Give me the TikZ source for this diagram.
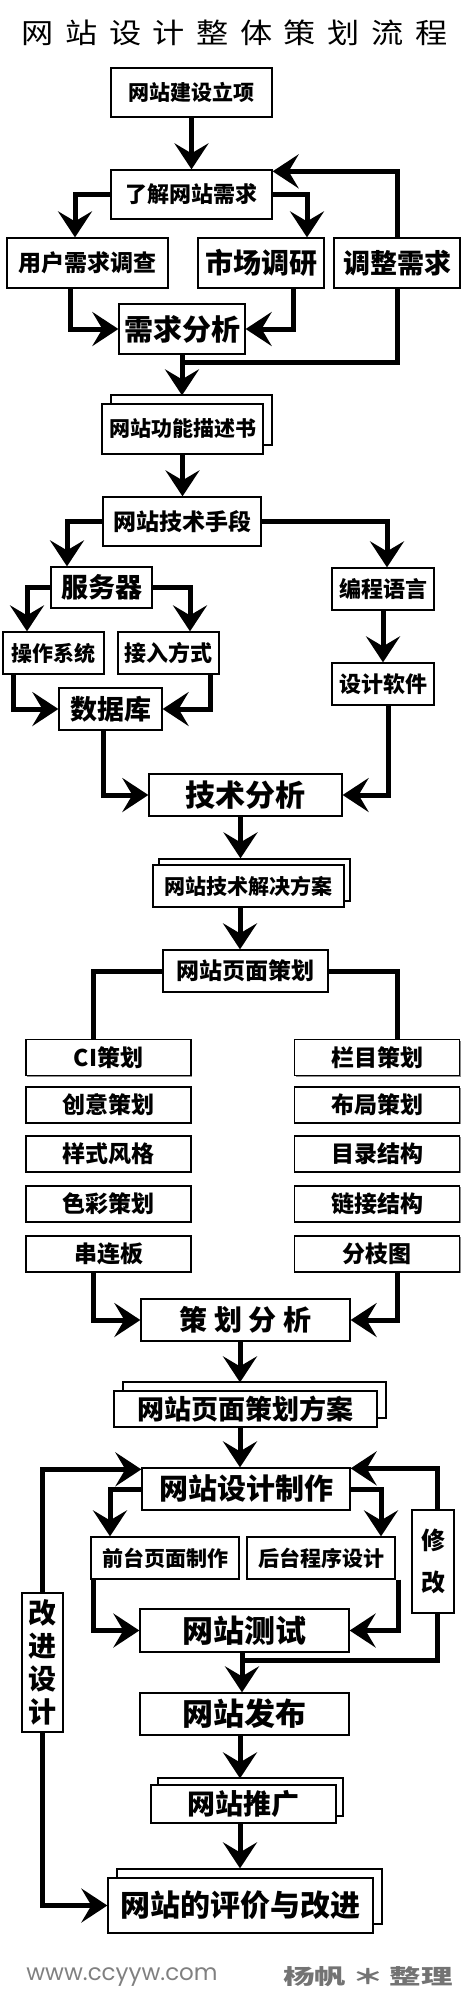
\documentclass[tikz,border=0pt]{standalone}
\usepackage{fontspec}
\setmainfont{Noto Sans CJK SC}
\newfontfamily\webfont{Poppins}
\usetikzlibrary{arrows.meta,calc,shadows}
\newcommand\flowfont[1]{\bfseries\fontsize{#1}{#1}\selectfont}
\newcommand\tsp{\hskip 11.5pt}

\begin{document}
\begin{tikzpicture}[x=1pt,y=-1pt]
\tikzset{
  flownode/.style={rectangle,draw=black,fill=white,line width=1.3pt,inner sep=0pt,
    general shadow={shadow xshift=1.3pt,shadow yshift=-1.3pt,fill=black!45}},
  docnode/.style={flownode,copy shadow={shadow xshift=#1,shadow yshift=#1}},
  colnode/.style={flownode,minimum width=165pt,minimum height=36pt,font=\flowfont{23}},
  flowedge/.style={draw=black,line width=5pt,line join=miter},
  directed/.style={flowedge,-{Stealth[length=26pt,width=34pt,inset=10pt]}}
}
\useasboundingbox (0,0) rectangle (468,2000);
\node[font=\fontsize{28}{28}\selectfont\addfontfeatures{FakeStretch=1.15}] (n_title) at (234.5,33)
  {网\tsp 站\tsp 设\tsp 计\tsp 整\tsp 体\tsp 策\tsp 划\tsp 流\tsp 程};
\node[flownode,minimum width=161pt,minimum height=49pt,font=\flowfont{21}] (n_start) at (191.5,92.5) {网站建设立项};
\node[flownode,minimum width=161pt,minimum height=49pt,font=\flowfont{22}] (n_req) at (191.5,194.5) {了解网站需求};
\node[flownode,minimum width=161pt,minimum height=50pt,font=\flowfont{23}] (n_user) at (87.5,263) {用户需求调查};
\node[flownode,minimum width=126pt,minimum height=50pt,font=\flowfont{28}] (n_market) at (261,263) {市场调研};
\node[flownode,minimum width=126pt,minimum height=50pt,font=\flowfont{27}] (n_adjust) at (397,263) {调整需求};
\node[flownode,minimum width=126pt,minimum height=50pt,font=\flowfont{29}] (n_analysis) at (182,329) {需求分析};
\node[docnode=9pt,minimum width=161pt,minimum height=50pt,font=\flowfont{21}] (n_func) at (182.5,429) {网站功能描述书};
\node[flownode,minimum width=158pt,minimum height=49pt,font=\flowfont{23}] (n_tech) at (182,521.5) {网站技术手段};
\node[flownode,minimum width=101pt,minimum height=41pt,font=\flowfont{27}] (n_server) at (101.5,587.5) {服务器};
\node[flownode,minimum width=101pt,minimum height=42pt,font=\flowfont{21}] (n_os) at (53.5,653) {操作系统};
\node[flownode,minimum width=101pt,minimum height=42pt,font=\flowfont{22}] (n_access) at (168.5,653) {接入方式};
\node[flownode,minimum width=102pt,minimum height=42pt,font=\flowfont{22}] (n_lang) at (383,589) {编程语言};
\node[flownode,minimum width=102pt,minimum height=42pt,font=\flowfont{22}] (n_soft) at (383,684) {设计软件};
\node[flownode,minimum width=103pt,minimum height=42pt,font=\flowfont{27}] (n_db) at (110.5,709) {数据库};
\node[flownode,minimum width=193pt,minimum height=42pt,font=\flowfont{30}] (n_techana) at (245.5,795) {技术分析};
\node[docnode=6pt,minimum width=191pt,minimum height=42pt,font=\flowfont{21}] (n_solution) at (248.5,886) {网站技术解决方案};
\node[flownode,minimum width=165pt,minimum height=42pt,font=\flowfont{23}] (n_page) at (245.5,971) {网站页面策划};
% left column
\node[colnode] (n_l1) at (108.5,1057.5) {CI策划};
\node[colnode] (n_l2) at (108.5,1105) {创意策划};
\node[colnode] (n_l3) at (108.5,1154) {样式风格};
\node[colnode] (n_l4) at (108.5,1204) {色彩策划};
\node[colnode] (n_l5) at (108.5,1254) {串连板};
% right column
\node[colnode] (n_r1) at (377,1057.5) {栏目策划};
\node[colnode] (n_r2) at (377,1105) {布局策划};
\node[colnode] (n_r3) at (377,1154) {目录结构};
\node[colnode] (n_r4) at (377,1204) {链接结构};
\node[colnode] (n_r5) at (377,1254) {分枝图};
\node[flownode,minimum width=209pt,minimum height=42pt,font=\flowfont{28}] (n_plan) at (245.5,1320) {策 划 分 析};
\node[docnode=9pt,minimum width=263pt,minimum height=36pt,font=\flowfont{27}] (n_scheme) at (245.5,1409) {网站页面策划方案};
\node[flownode,minimum width=208pt,minimum height=42pt,font=\flowfont{29}] (n_make) at (246,1489) {网站设计制作};
\node[flownode,minimum width=148pt,minimum height=42pt,font=\flowfont{21}] (n_front) at (165,1558) {前台页面制作};
\node[flownode,minimum width=148pt,minimum height=42pt,font=\flowfont{21}] (n_back) at (321,1558) {后台程序设计};
\node[flownode,minimum width=209pt,minimum height=43pt,font=\flowfont{31}] (n_test) at (244.5,1630.5) {网站测试};
\node[flownode,minimum width=209pt,minimum height=42pt,font=\flowfont{31}] (n_publish) at (244.5,1714) {网站发布};
\node[docnode=7pt,minimum width=185pt,minimum height=38pt,font=\flowfont{28}] (n_promo) at (243.5,1804) {网站推广};
\node[docnode=9pt,minimum width=265pt,minimum height=55pt,font=\flowfont{30}] (n_eval) at (240.5,1905.5) {网站的评价与改进};
\node[flownode,minimum width=41pt,minimum height=139pt,align=center,font=\bfseries\fontsize{28}{33}\selectfont] (n_improve) at (42.5,1662.5) {改\\进\\设\\计};
\coordinate (c_join) at (182,362);
\coordinate (c_loop) at (437,1660);
\draw[directed] (n_start) -- (n_req);
\draw[directed] (n_req.west) -| ($(n_user.north)+(-12.5,0)$);
\draw[directed] (n_req.east) -| ($(n_market.north)+(46,0)$);
\draw[directed] (n_adjust.north) |- ($(n_req.north east)+(0,2)$);
\draw[directed] ($(n_user.south)+(-17.5,0)$) |- (n_analysis.west);
\draw[directed] ($(n_market.south)+(32,0)$) |- (n_analysis.east);
\draw[flowedge] (n_adjust.south) |- (c_join);
\draw[directed] (n_analysis.south) -- ($(n_analysis.south |- n_func.north)+(0,-8)$);
\draw[directed] (n_func.south) -- (n_func.south |- n_tech.north);
\draw[directed] (n_tech.west) -| ($(n_server.north)+(-34.5,0)$);
\draw[directed] (n_tech.east) -| ($(n_lang.north)+(4,0)$);
\draw[directed] (n_server.west) -| ($(n_os.north)+(-26.5,0)$);
\draw[directed] (n_server.east) -| ($(n_access.north)+(21.5,0)$);
\draw[directed] (n_lang) -- (n_soft);
\draw[directed] ($(n_os.south)+(-40.5,0)$) |- (n_db.west);
\draw[directed] ($(n_access.south)+(41.5,0)$) |- (n_db.east);
\draw[directed] ($(n_db.south)+(-7.5,0)$) |- (n_techana.west);
\draw[directed] ($(n_soft.south)+(5,0)$) |- (n_techana.east);
\draw[directed] ($(n_techana.south)+(-5,0)$) -- ($(n_techana.south |- n_solution.north)+(-5,-6)$);
\draw[directed] ($(n_solution.south)+(-8.5,0)$) -- ($(n_page.north)+(-5.5,0)$);
\draw[flowedge] (n_page.west) -| ($(n_l1.north)+(-15.5,0)$);
\draw[flowedge] (n_page.east) -| ($(n_r1.north)+(20,0)$);
\draw[directed] ($(n_l5.south)+(-15.5,0)$) |- (n_plan.west);
\draw[directed] ($(n_r5.south)+(20,0)$) |- (n_plan.east);
\draw[directed] ($(n_plan.south)+(-5.5,0)$) -- ($(n_plan.south |- n_scheme.north)+(-5.5,-8)$);
\draw[directed] ($(n_scheme.south)+(-5.5,0)$) -- ($(n_make.north)+(-6,0)$);
\draw[directed] (n_improve.north) |- ($(n_make.north west)+(0,2)$);
\draw[directed] (n_make.west) -| ($(n_front.north)+(-55,0)$);
\draw[directed] (n_make.east) -| ($(n_back.north)+(60,0)$);
\draw[directed] ($(n_front.south)+(-72,0)$) |- (n_test.west);
\draw[directed] ($(n_back.south)+(77,0)$) |- (n_test.east);
\draw[directed] ($(n_test.south)+(-2.5,0)$) |- (c_loop) |- ($(n_make.north east)+(0,1)$);
\draw[directed] ($(n_test.south)+(-2.5,0)$) -- ($(n_publish.north)+(-2.5,0)$);
\draw[directed] ($(n_publish.south)+(-4.5,0)$) -- ($(n_publish.south |- n_promo.north)+(-4.5,-6)$);
\draw[directed] ($(n_promo.south)+(-3.5,0)$) -- ($(n_promo.south |- n_eval.north)+(-3.5,-9)$);
\draw[directed] (n_improve.south) |- (n_eval.west);
% label box on the loop
\node[flownode,minimum width=42pt,minimum height=103pt,align=center,font=\bfseries\fontsize{24}{42}\selectfont] (n_modify) at (433,1561.5) {修\\改};
% footer
\node[font=\webfont\fontsize{23}{23}\selectfont,text=black!50] (n_site) at (122,1977) {www.ccyyw.com};
\node[font=\bfseries\fontsize{21}{21}\selectfont\addfontfeatures{FakeStretch=1.5},text=black!55] (n_sign) at (368,1977) {杨帆\hskip6pt＊\hskip6pt整理};
\end{tikzpicture}
\end{document}
